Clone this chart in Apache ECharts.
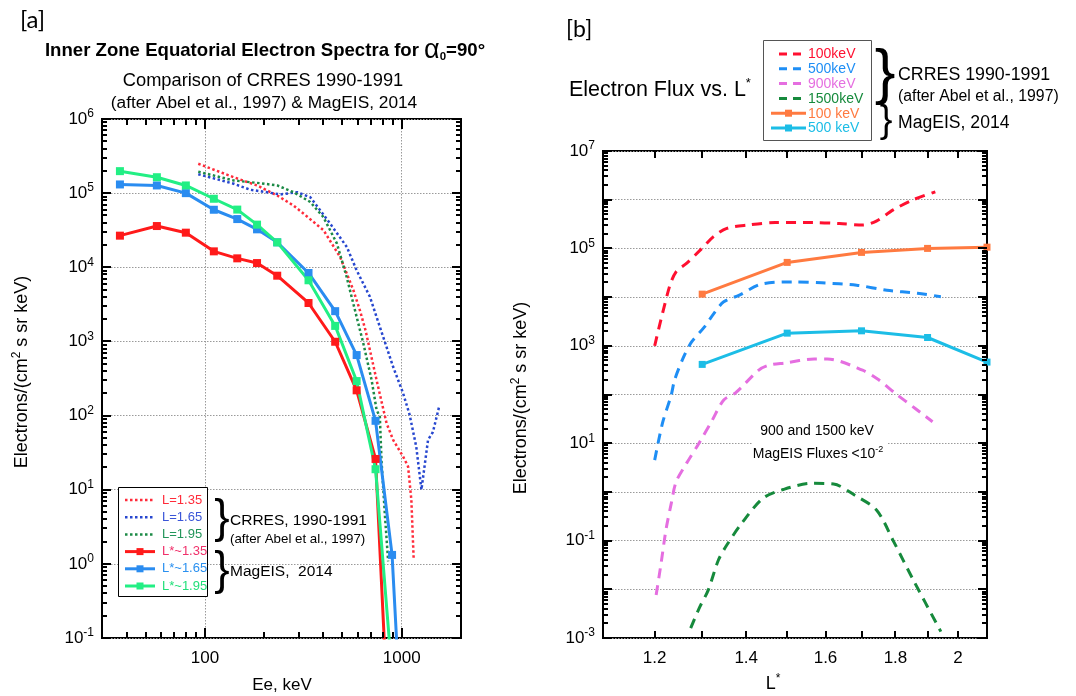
<!DOCTYPE html>
<html>
<head>
<meta charset="utf-8">
<title>Inner zone electron spectra</title>
<script src="https://cdn.jsdelivr.net/npm/echarts@6/dist/echarts.min.js"></script>
</head>
<body style="margin:0; background:#fff">
<div id="main" style="width:1076px; height:696px"></div>
<script>
// ---------- panel [a] : spectra, flux vs energy ----------
var magEnergy = [37, 57, 80, 111, 146, 184, 233, 336, 459, 590, 736, 893, 1065];
var mag135 = [26700, 36000, 29300, 16400, 13200, 11400, 7700, 3300, 990, 219, 26, 0.0006, 0.00001];
var mag165 = [131000, 127000, 100000, 59700, 44700, 32500, 21700, 8380, 2560, 655, 85, 1.32, 0.0002];
var mag195 = [198000, 164000, 127000, 84000, 60000, 37600, 21700, 6680, 1620, 292, 18.9, 0.032, 0.00001];

var crres135E = [92.5, 140, 184, 233, 282, 318, 401, 441, 486, 526, 568, 613, 655, 745, 837, 904, 1016, 1077, 1119, 1150];
var crres135 = [249000, 164000, 127000, 93000, 68000, 52600, 31500, 20900, 13800, 8200, 4900, 2630, 1400, 301, 79, 47, 28, 20.5, 7.3, 1.14];
var crres165E = [92.5, 140, 170, 192, 242, 294, 343, 433, 526, 590, 689, 774, 805, 904, 1016, 1097, 1185, 1259, 1360, 1440, 1555];
var crres165 = [180000, 134000, 111000, 106000, 96000, 103000, 88000, 38700, 18800, 9100, 4000, 1570, 1150, 455, 200, 102, 38, 10, 47, 60, 138];
var crres195E = [92.5, 140, 192, 233, 282, 343, 400, 468, 525, 568, 638, 703, 745, 774, 789, 820, 853];
var crres195 = [195000, 148000, 136000, 127000, 103000, 76000, 47500, 21000, 7400, 3200, 940, 301, 119, 97, 25, 4.8, 1.08];

var aXLabels = [100, 1000];
var aYLabels = [0.1, 1, 10, 100, 1000, 10000, 100000, 1000000];

// ---------- panel [b] : flux vs L* ----------
var c100L = [1.2, 1.23, 1.244, 1.266, 1.295, 1.325, 1.355, 1.405, 1.47, 1.565, 1.638, 1.704, 1.743, 1.793, 1.855, 1.925];
var c100 = [1000, 16000, 33000, 49000, 91000, 174000, 257000, 302000, 339000, 339000, 324000, 302000, 363000, 617000, 1000000, 1450000];
var c500L = [1.2, 1.216, 1.234, 1.241, 1.26, 1.277, 1.305, 1.326, 1.348, 1.384, 1.436, 1.515, 1.59, 1.686, 1.774, 1.868, 1.943];
var c500 = [4.5, 26, 98, 200, 590, 1200, 2450, 4650, 8000, 11000, 18500, 20500, 19600, 17600, 13800, 12000, 10200];
var c900L = [1.203, 1.213, 1.223, 1.234, 1.244, 1.266, 1.293, 1.322, 1.348, 1.375, 1.43, 1.455, 1.495, 1.57, 1.605, 1.703, 1.75, 1.8, 1.862, 1.916];
var c900 = [0.0076, 0.034, 0.166, 0.58, 1.6, 3.85, 10, 29.5, 77, 108, 316, 400, 445, 535, 535, 316, 200, 105, 51, 27.5];
var c1500L = [1.275, 1.295, 1.313, 1.336, 1.355, 1.389, 1.44, 1.49, 1.564, 1.622, 1.68, 1.744, 1.793, 1.855, 1.943];
var c1500 = [0.0016, 0.0044, 0.0095, 0.04, 0.081, 0.224, 0.74, 1.12, 1.5, 1.45, 0.86, 0.42, 0.10, 0.0155, 0.00135];
var magL = [1.3, 1.5, 1.7, 1.9, 2.1];
var mag100 = [11500, 51600, 82800, 100000, 106000];
var mag500 = [415, 1820, 2030, 1480, 463];

var bXTicks = [1.2, 1.3, 1.4, 1.5, 1.6, 1.7, 1.8, 1.9, 2.0];
var bXLabels = [1.2, 1.4, 1.6, 1.8, 2];
var bYLabels = [0.001, 0.1, 10, 1000, 100000, 10000000];

var FONT = '"Liberation Sans", Arial, sans-serif';
var GRID_A = { left: 102, top: 119, width: 359, height: 519 };
var GRID_B = { left: 603, top: 151, width: 384, height: 487 };

function pairs(xs, ys) {
    return xs.map(function (x, i) { return [x, ys[i]]; });
}
function decades(lo, hi) {
    var out = [];
    for (var e = lo; e <= hi; e++) out.push(Number('1e' + e));
    return out;
}
function minors(lo, hi) {
    var out = [];
    for (var e = lo; e <= hi; e++)
        for (var m = 2; m <= 9; m++) out.push(Number(m + 'e' + e));
    return out;
}
function powLabel(v) {
    var e = Math.round(Math.log10(v));
    return '{b|10}{s|' + e + '}';
}
var powRich = {
    b: { fontSize: 17, lineHeight: 22, fontFamily: FONT, color: '#000' },
    s: { fontSize: 12, lineHeight: 12, verticalAlign: 'top', fontFamily: FONT, color: '#000' }
};

function axis(o) {
    return {
        type: 'log', logBase: 10, gridIndex: o.grid, position: o.pos, min: o.min, max: o.max,
        axisLine: { show: false },
        axisTick: { show: false, customValues: o.grid_ticks },
        axisLabel: { show: true, customValues: o.labels, formatter: o.fmt, rich: o.rich,
                     margin: o.margin, fontSize: 17, fontFamily: FONT, color: '#000' },
        splitLine: { show: !!o.split, lineStyle: { color: '#9a9a9a', width: 1, type: [1.5, 1.5] } },
        minorTick: { show: false }
    };
}

function dotted(name, xs, ys, color) {
    return { name: name, type: 'line', xAxisIndex: 0, yAxisIndex: 0, data: pairs(xs, ys),
             showSymbol: false, symbol: 'none', z: 3,
             lineStyle: { color: color, width: 2.5, type: [2.5, 2.5], cap: 'butt' } };
}
function solidA(name, ys, color) {
    return { name: name, type: 'line', xAxisIndex: 0, yAxisIndex: 0, data: pairs(magEnergy, ys),
             symbol: 'rect', symbolSize: 8, itemStyle: { color: color }, z: 4,
             lineStyle: { color: color, width: 3 } };
}
function dashedB(name, xs, ys, color) {
    return { name: name, type: 'line', xAxisIndex: 1, yAxisIndex: 1, data: pairs(xs, ys),
             symbol: 'none', smooth: 0.3, z: 3,
             lineStyle: { color: color, width: 3, type: [10, 7] } };
}
function solidB(name, ys, color) {
    return { name: name, type: 'line', xAxisIndex: 1, yAxisIndex: 1, data: pairs(magL, ys),
             symbol: 'rect', symbolSize: 7, itemStyle: { color: color }, z: 4, clip: false,
             lineStyle: { color: color, width: 3 } };
}

var C = {
    r: '#ff1a1a', rDot: '#ff2b3a', b: '#2a8cf0', bDot: '#2747cf', g: '#22ef84', gDot: '#1c8a46',
    bRed: '#ff1030', bBlue: '#1e8ef5', bMag: '#e56ee0', bGreen: '#168a3c', bOrange: '#ff7a40', bCyan: '#1cbde6'
};

// ---------- graphic: legends, titles ----------
function txt(x, y, s, size, opt) {
    opt = opt || {};
    return { type: 'text', x: x, y: y, rotation: opt.rot || 0, z: 110,
             style: { text: s, fontSize: size, fontFamily: opt.font || FONT, fontWeight: opt.bold ? 'bold' : 'normal',
                      fill: opt.color || '#000', align: opt.align || 'left', verticalAlign: 'middle', rich: opt.rich } };
}
function seg(x1, y1, x2, y2, color, w, dash) {
    return { type: 'line', z: 110, shape: { x1: x1, y1: y1, x2: x2, y2: y2 },
             style: { stroke: color, lineWidth: w, lineDash: dash || null, lineCap: 'butt' } };
}
function legLine(x1, x2, y, color, dash, w, marker) {
    var g = [seg(x1, y, x2, y, color, w, dash)];
    if (marker) g.push({ type: 'rect', z: 111, shape: { x: (x1 + x2) / 2 - 3.5, y: y - 3.5, width: 7, height: 7 },
                         style: { fill: color } });
    return g;
}
var supRich = {
    n: { fontSize: 18, fontFamily: FONT, lineHeight: 22 },
    s: { fontSize: 12, fontFamily: FONT, lineHeight: 12, verticalAlign: 'top' }
};

var aLegend = [
    ['L=1.35', C.rDot, C.rDot, true], ['L=1.65', C.bDot, '#3a55d8', true], ['L=1.95', C.gDot, '#22955a', true],
    ['L*~1.35', C.r, '#f0306a', false], ['L*~1.65', C.b, '#2a90f0', false], ['L*~1.95', C.g, '#22e07a', false]
];
var bLegend = [
    ['100keV', C.bRed, true], ['500keV', C.bBlue, true], ['900keV', C.bMag, true], ['1500keV', C.bGreen, true],
    ['100 keV', C.bOrange, false], ['500 keV', C.bCyan, false]
];

var graphics = [
    txt(20, 20, '[a]', 24, { font: 'Lato, "Open Sans", sans-serif' }),
    txt(566, 30, '[b]', 23, { font: 'Lato, "Open Sans", sans-serif' }),
    txt(265, 51, '{t|Inner Zone Equatorial Electron Spectra for }{al|α}{sub|0}{t|=90°}', 18, { align: 'center',
        rich: { t: { fontSize: 18.6, fontWeight: 'bold', fontFamily: FONT, lineHeight: 24 },
                al: { fontSize: 27, fontFamily: FONT, lineHeight: 24 },
                sub: { fontSize: 11.5, fontWeight: 'bold', fontFamily: FONT, lineHeight: 10, verticalAlign: 'bottom' } } }),
    txt(263, 81, 'Comparison of CRRES 1990-1991', 18.3, { align: 'center' }),
    txt(264, 103, '(after Abel et al., 1997) & MagEIS, 2014', 17.3, { align: 'center' }),
    txt(22, 372, '{n|Electrons/(cm}{s|2}{n| s sr keV)}', 18, { align: 'center', rot: Math.PI / 2, rich: supRich }),
    txt(282, 685, 'Ee, keV', 17, { align: 'center' }),
    txt(569, 90, '{n|Electron Flux vs. L}{s|*}', 21, { rich: { n: { fontSize: 21.5, fontFamily: FONT, lineHeight: 26 },
        s: { fontSize: 13, fontFamily: FONT, lineHeight: 13, verticalAlign: 'top' } } }),
    txt(521, 398, '{n|Electrons/(cm}{s|2}{n| s sr keV)}', 18, { align: 'center', rot: Math.PI / 2, rich: supRich }),
    txt(773, 684, '{n|L}{s|*}', 18, { align: 'center', rich: supRich }),
    // note box inside panel b
    { type: 'rect', z: 100, shape: { x: 752, y: 421, width: 135, height: 45 }, style: { fill: '#fff' } },
    txt(817, 431, '900 and 1500 keV', 14, { align: 'center' }),
    txt(818, 454, '{n|MagEIS Fluxes <10}{s|-2}', 14, { align: 'center', rich: {
        n: { fontSize: 14, fontFamily: FONT, lineHeight: 18 },
        s: { fontSize: 9, fontFamily: FONT, lineHeight: 9, verticalAlign: 'top' } } }),
    // legend box panel a
    { type: 'rect', z: 109, shape: { x: 118.5, y: 487.5, width: 89, height: 109 },
      style: { fill: '#fff', stroke: '#000', lineWidth: 1 } },
    txt(222, 519, '}', 46, { align: 'center' }),
    txt(230, 521, 'CRRES, 1990-1991', 15.5),
    txt(230, 539, '(after Abel et al., 1997)', 13.3),
    txt(222, 571, '}', 46, { align: 'center' }),
    txt(230, 572, 'MagEIS,  2014', 15.5),
    // legend box panel b
    { type: 'rect', z: 109, shape: { x: 763.5, y: 40.5, width: 108, height: 100 },
      style: { fill: '#fff', stroke: '#555', lineWidth: 1 } },
    txt(885, 75, '}', 62, { align: 'center' }),
    txt(898, 75, 'CRRES 1990-1991', 17.8),
    txt(898, 97, '(after Abel et al., 1997)', 15.8),
    txt(886, 122, '}', 38, { align: 'center' }),
    txt(898, 123, 'MagEIS, 2014', 17.6)
];
aLegend.forEach(function (it, i) {
    var y = 500 + i * 17.2;
    graphics = graphics.concat(legLine(125, 155, y, it[1], it[3] ? [2.5, 2.5] : null, it[3] ? 2.5 : 3, !it[3]));
    graphics.push(txt(162, y, it[0], 13, { color: it[2] }));
});
bLegend.forEach(function (it, i) {
    var y = 54 + i * 14.8;
    if (it[2]) graphics = graphics.concat(legLine(779, 806, y, it[1], [8, 6], 3, false));
    else graphics = graphics.concat(legLine(771, 806, y, it[1], null, 3, true));
    graphics.push(txt(808, y + 0.5, it[0], 14, { color: it[1] }));
});

var chart = echarts.init(document.getElementById('main'), null, { renderer: 'canvas' });
chart.setOption({
    animation: false,
    backgroundColor: '#fff',
    grid: [
        Object.assign({ show: true, borderColor: '#000', borderWidth: 2 }, GRID_A),
        Object.assign({ show: true, borderColor: '#000', borderWidth: 2 }, GRID_B)
    ],
    xAxis: [
        axis({ grid: 0, pos: 'bottom', min: 30, max: 2000, labels: aXLabels, grid_ticks: aXLabels, margin: 12, split: true,
               fmt: function (v) { return String(v); } }),
        axis({ grid: 1, pos: 'bottom', min: 1.1, max: 2.1, labels: bXLabels, grid_ticks: bXTicks, margin: 12,
               fmt: function (v) { return String(Math.round(v * 10) / 10); } })
    ],
    yAxis: [
        axis({ grid: 0, pos: 'left', min: 0.1, max: 1e6, labels: aYLabels, grid_ticks: decades(-1, 6), split: true,
               fmt: powLabel, rich: powRich, margin: 8 }),
        axis({ grid: 1, pos: 'left', min: 0.001, max: 1e7, labels: bYLabels, grid_ticks: decades(-3, 7), split: true,
               fmt: powLabel, rich: powRich, margin: 8 })
    ],
    series: [
        dotted('L=1.35', crres135E, crres135, C.rDot),
        dotted('L=1.65', crres165E, crres165, C.bDot),
        dotted('L=1.95', crres195E, crres195, C.gDot),
        solidA('L*~1.35', mag135, C.r),
        solidA('L*~1.65', mag165, C.b),
        solidA('L*~1.95', mag195, C.g),
        dashedB('100keV', c100L, c100, C.bRed),
        dashedB('500keV', c500L, c500, C.bBlue),
        dashedB('900keV', c900L, c900, C.bMag),
        dashedB('1500keV', c1500L, c1500, C.bGreen),
        solidB('100 keV', mag100, C.bOrange),
        solidB('500 keV', mag500, C.bCyan)
    ]
});

// tick marks on all four sides of each frame, placed with the grid's own scales
function frameTicks(idx, g, xRef, yRef, xTicks, yTicks) {
    var out = [];
    var L = g.left, R = g.left + g.width, T = g.top, B = g.top + g.height;
    xTicks.forEach(function (t) {
        var p = chart.convertToPixel({ gridIndex: idx }, [t[0], yRef]);
        var px = p && p[0];
        if (!(px > L + 1 && px < R - 1)) return;
        px = Math.round(px);
        out.push(seg(px, B, px, B - t[1], '#000', 2), seg(px, T, px, T + t[1], '#000', 2));
    });
    yTicks.forEach(function (t) {
        var p = chart.convertToPixel({ gridIndex: idx }, [xRef, t[0]]);
        var py = p && p[1];
        if (!(py > T - 1 && py < B + 1)) return;
        py = Math.round(py);
        out.push(seg(L, py, L + t[1], py, '#000', 2), seg(R, py, R - t[1], py, '#000', 2));
    });
    return out;
}
function withLen(vals, len) { return vals.map(function (v) { return [v, len]; }); }

var aXMinor = minors(1, 3).filter(function (v) { return v >= 40 && v < 2000; });
var tickGraphics = frameTicks(0, GRID_A, 100, 1,
        withLen(aXLabels, 10).concat(withLen(aXMinor, 6)),
        withLen(decades(-1, 6), 9).concat(withLen(minors(-1, 5), 5)))
    .concat(frameTicks(1, GRID_B, 1.5, 1,
        withLen(bXTicks, 7),
        withLen(decades(-3, 7), 9).concat(withLen(minors(-3, 6), 5))));

chart.setOption({ graphic: graphics.concat(tickGraphics) });
window.onresize = function () { chart.resize(); };
</script>
</body>
</html>
